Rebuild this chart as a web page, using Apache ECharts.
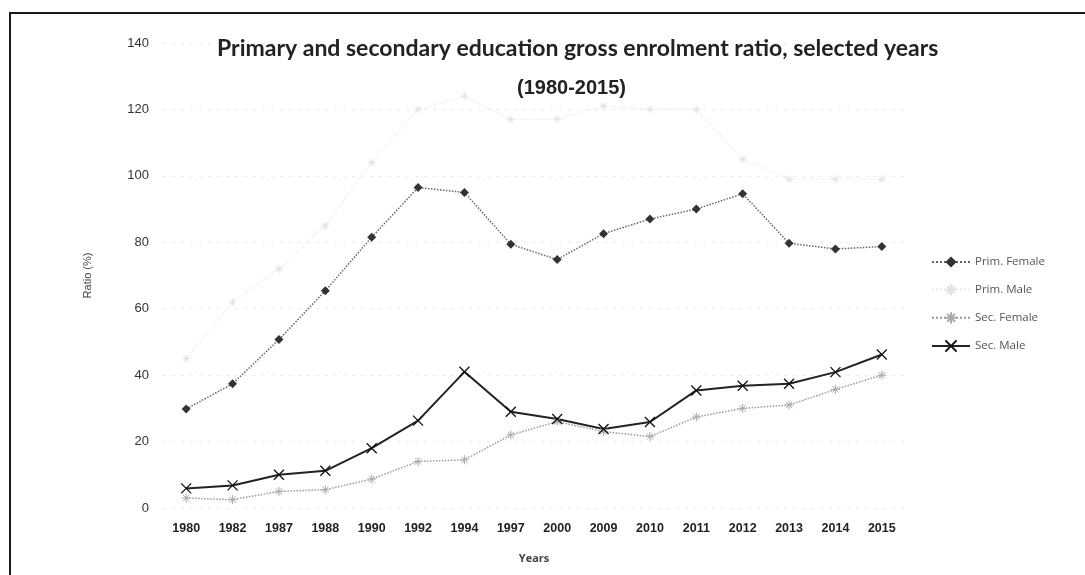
<!DOCTYPE html>
<html>
<head>
<meta charset="utf-8">
<title>Gross enrolment ratio</title>
<script src="https://cdn.jsdelivr.net/npm/echarts@6/dist/echarts.min.js"></script>
<style>
  html, body { margin: 0; padding: 0; background: #fff; }
  #chart { width: 1085px; height: 575px; }
</style>
</head>
<body>
<div id="chart"></div>
<script>
// data
const years = ['1980', '1982', '1987', '1988', '1990', '1992', '1994', '1997', '2000', '2009', '2010', '2011', '2012', '2013', '2014', '2015']
const primFemale = [29.8, 37.4, 50.7, 65.4, 81.5, 96.5, 95, 79.4, 74.8, 82.6, 87, 90, 94.6, 79.7, 78, 78.7]
const primMale = [45, 62, 72, 85, 104, 120, 124, 117, 117, 121, 120, 120, 105, 99, 99, 99]
const secFemale = [3, 2.5, 5, 5.5, 8.7, 14, 14.5, 22, 26, 23, 21.5, 27.4, 30, 31, 35.7, 40]
const secMale = [5.9, 6.8, 10, 11.2, 18, 26.3, 41, 29, 26.8, 23.8, 25.9, 35.4, 36.8, 37.4, 40.9, 46.2]
const yTicks = { min: 0, max: 140, step: 20 }

const crossSym = 'path://M0,0L10,10M10,0L0,10'
const starSym = 'path://M0,5L10,5M5,0L5,10M1.5,1.5L8.5,8.5M8.5,1.5L1.5,8.5'

const myChart = echarts.init(document.getElementById('chart'))

const option = {
  backgroundColor: '#fff',
  animation: false,
  title: [
    {
      text: 'Primary and secondary education gross enrolment ratio, selected years',
      left: 212,
      top: 32,
      textStyle: { fontFamily: 'Lato', fontWeight: 'bold', fontSize: 23, color: '#222' }
    },
    {
      text: '(1980-2015)',
      left: 512,
      top: 73,
      textStyle: { fontFamily: 'Liberation Sans', fontWeight: 'bold', fontSize: 20, color: '#222' }
    }
  ],
  legend: {
    orient: 'vertical',
    left: 926,
    top: 251,
    itemWidth: 38,
    itemHeight: 14,
    itemGap: 15,
    textStyle: { fontFamily: 'Open Sans', fontSize: 11.5, color: '#555' },
    data: ['Prim. Female', 'Prim. Male', 'Sec. Female', 'Sec. Male']
  },
  grid: { left: 163, right: 180, top: 43, bottom: 67 },
  xAxis: {
    type: 'category',
    data: years,
    boundaryGap: true,
    name: 'Years',
    nameLocation: 'middle',
    nameGap: 45,
    nameTextStyle: { fontFamily: 'Open Sans', fontSize: 11, color: '#444', fontWeight: 'bold' },
    axisLine: { show: false },
    axisTick: { show: false },
    axisLabel: { margin: 14, fontFamily: 'Liberation Sans', fontWeight: 'bold', fontSize: 12.5, color: '#222' }
  },
  yAxis: {
    type: 'value',
    min: yTicks.min,
    max: yTicks.max,
    interval: yTicks.step,
    name: 'Ratio (%)',
    nameLocation: 'middle',
    nameRotate: 90,
    nameGap: 70,
    nameTextStyle: { fontFamily: 'Liberation Sans', fontSize: 11, color: '#444' },
    axisLine: { show: false },
    axisTick: { show: false },
    axisLabel: { margin: 14, fontFamily: 'Liberation Sans', fontSize: 13, color: '#333' },
    splitLine: { lineStyle: { color: '#ececec', type: [3, 6], width: 1 } }
  },
  series: [
    {
      name: 'Prim. Female',
      type: 'line',
      data: primFemale,
      symbol: 'diamond',
      symbolSize: 9,
      itemStyle: { color: '#333' },
      lineStyle: { color: '#666', type: 'dotted', width: 1.5 }
    },
    {
      name: 'Prim. Male',
      type: 'line',
      data: primMale,
      symbol: starSym,
      symbolSize: 8,
      itemStyle: { color: 'transparent', borderColor: '#e2e2e2', borderWidth: 1 },
      lineStyle: { color: '#ebebeb', type: 'dotted', width: 1.2 }
    },
    {
      name: 'Sec. Female',
      type: 'line',
      data: secFemale,
      symbol: starSym,
      symbolSize: 9,
      itemStyle: { color: 'transparent', borderColor: '#aaa', borderWidth: 1 },
      lineStyle: { color: '#999', type: 'dotted', width: 1.5 }
    },
    {
      name: 'Sec. Male',
      type: 'line',
      data: secMale,
      symbol: crossSym,
      symbolSize: 10,
      itemStyle: { color: 'transparent', borderColor: '#111', borderWidth: 1.3 },
      lineStyle: { color: '#222', width: 2 }
    }
  ],
  graphic: [
    { type: 'rect', shape: { x: 9, y: 12, width: 1076, height: 2 }, style: { fill: '#1a1a1a' } },
    { type: 'rect', shape: { x: 9, y: 12, width: 2, height: 563 }, style: { fill: '#1a1a1a' } }
  ]
}

myChart.setOption(option)

window.addEventListener('resize', () => {
  myChart.resize()
})
</script>
</body>
</html>
